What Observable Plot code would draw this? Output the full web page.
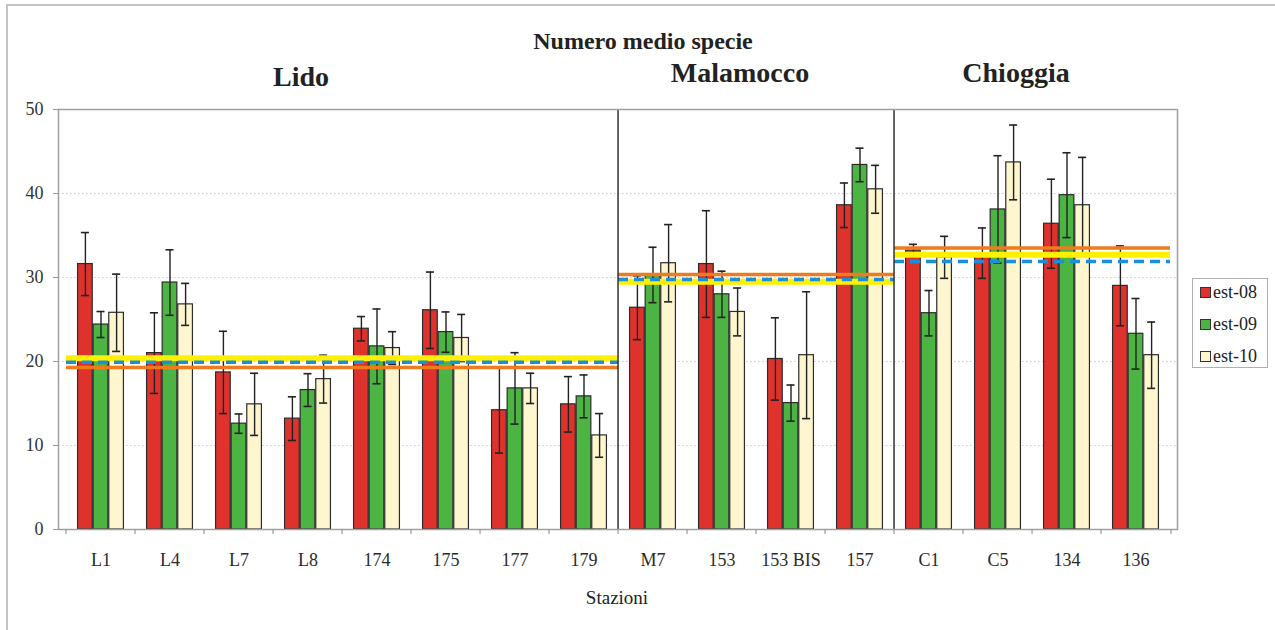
<!DOCTYPE html>
<html>
<head>
<meta charset="utf-8">
<script src="https://cdn.jsdelivr.net/npm/d3@7"></script>
<script src="https://cdn.jsdelivr.net/npm/@observablehq/plot@0.6"></script>
<style>
  body { margin: 0; background: #fff; }
  #wrap { position: relative; width: 1275px; height: 630px; overflow: hidden; font-family: "Liberation Serif", serif; color: #222; }
  #frame { position: absolute; left: 5.5px; top: 4px; width: 1400px; height: 700px; border-left: 2px solid #c4c4c4; border-top: 2px solid #c4c4c4; }
  .lbl { position: absolute; white-space: nowrap; line-height: 1; transform: translateX(-50%); font-family: "Liberation Serif", serif; }
  #legend { position: absolute; left: 1192px; top: 278px; width: 76px; height: 90px; border: 1px solid #b0b0b0; box-sizing: border-box; background: #fff; font-family: "Liberation Serif", serif; }
  .li { position: absolute; left: 7px; font-size: 18px; line-height: 1; color: #222; display: flex; align-items: center; font-family: "Liberation Serif", serif; }
  .sw { width: 11px; height: 11px; border: 1px solid #333; margin-right: 2px; box-sizing: border-box; }
  svg { position: absolute; left: 0; top: 0; }
  svg text { font-family: "Liberation Serif", serif; }
</style>
</head>
<body>
<div id="wrap">
  <div id="frame"></div>
  <div id="chart"></div>
</div>
<script>
// ---- data ----
const stations = ["L1","L4","L7","L8","174","175","177","179","M7","153","153 BIS","157","C1","C5","134","136"];
const seriesNames = ["est-08","est-09","est-10"];
const est08 = [31.6, 21.0, 18.7, 13.2, 23.9, 26.1, 14.2, 14.9, 26.4, 31.6, 20.3, 38.6, 33.2, 32.9, 36.4, 29.0];
const err08 = [3.75, 4.8, 4.9, 2.6, 1.45, 4.55, 5.1, 3.3, 3.8, 6.35, 4.9, 2.65, 0.75, 3.0, 5.3, 4.75];
const est09 = [24.4, 29.4, 12.6, 16.6, 21.8, 23.5, 16.8, 15.85, 30.3, 28.0, 15.05, 43.4, 25.75, 38.1, 39.8, 23.3];
const err09 = [1.55, 3.9, 1.15, 1.95, 4.45, 2.4, 4.25, 2.55, 3.3, 2.75, 2.15, 2.0, 2.7, 6.4, 5.05, 4.2];
const est10 = [25.8, 26.8, 14.9, 17.9, 21.6, 22.8, 16.8, 11.2, 31.7, 25.9, 20.75, 40.5, 32.4, 43.7, 38.6, 20.75];
const err10 = [4.6, 2.5, 3.7, 2.85, 1.95, 2.8, 1.8, 2.6, 4.6, 2.85, 7.55, 2.85, 2.5, 4.45, 5.7, 3.95];
const regions = ["Lido","Malamocco","Chioggia"];
const regionStart = ["L1","M7","C1"];
const regionEnd = ["179","157","136"];
const meanOrange = [19.3, 30.35, 33.5];
const meanYellow = [20.4, 29.5, 32.7];
const meanBlue = [19.9, 29.75, 31.9];
const yTicks = [0, 10, 20, 30, 40, 50];
const title = "Numero medio specie";
const xLabel = "Stazioni";

// ---- layout / style ----
const W = 1275, H = 630, mL = 58, mR = 98, mT = 109, mB = 101;
const bw = (W - mL - mR) / stations.length;
const barW = 15.6, capW = 9;
const colors = ["#df322d", "#4cb443", "#fdf6cf"];
const errs = [err08, err09, err10];
const vals = [est08, est09, est10];
const FONT = "Liberation Serif";

const marks = [];
marks.push(Plot.gridY(yTicks.slice(1, -1), {stroke: "#c8c8c8", strokeOpacity: 1, strokeDasharray: "1.5,2.5"}));

const seriesRows = seriesNames.map((name, k) =>
  stations.map((s, i) => ({station: s, series: name, v: vals[k][i], e: errs[k][i]}))
);

seriesRows.forEach((rows, k) => {
  const off = k - 1;
  const center = bw / 2 + off * barW;
  marks.push(Plot.barY(rows, {
    x: "station", y: "v", fill: colors[k], stroke: "#2b2b2b", strokeWidth: 1.2,
    insetLeft: center - barW / 2, insetRight: bw - center - barW / 2
  }));
});
seriesRows.forEach((rows, k) => {
  const off = k - 1;
  const center = bw / 2 + off * barW;
  marks.push(Plot.ruleX(rows, {x: "station", y1: d => d.v - d.e, y2: d => d.v + d.e, dx: off * barW, stroke: "#222", strokeWidth: 1.4}));
  for (const sign of [1, -1]) {
    marks.push(Plot.tickY(rows, {
      x: "station", y: d => d.v + sign * d.e, stroke: "#222", strokeWidth: 1.6,
      insetLeft: center - capW / 2, insetRight: bw - center - capW / 2
    }));
  }
});

const regionRows = regions.map((r, i) => ({region: r, start: regionStart[i], end: regionEnd[i], o: meanOrange[i], yl: meanYellow[i], b: meanBlue[i]}));
marks.push(Plot.ruleY(regionRows, {x1: "start", x2: "end", y: "yl", stroke: "#fff000", strokeWidth: 6}));
marks.push(Plot.ruleY(regionRows, {x1: "start", x2: "end", y: "o", stroke: "#f07a1e", strokeWidth: 3.5}));
marks.push(Plot.ruleY(regionRows, {x1: "start", x2: "end", y: "b", stroke: "#1d8fd8", strokeWidth: 3.5, strokeDasharray: "10,6"}));

// separators between regions
marks.push(Plot.ruleX(regionStart.slice(1), {x: d => d, y1: 0, y2: 50, dx: -bw / 2, stroke: "#333", strokeWidth: 1.5}));

marks.push(Plot.frame({stroke: "#a0a0a0", strokeWidth: 1.5}));

// boundary ticks on x axis
marks.push(Plot.ruleX(stations, {x: d => d, y1: 0, y2: 0, insetBottom: -5, dx: -bw / 2, stroke: "#999", strokeWidth: 1.2}));
marks.push(Plot.ruleX(stations.slice(-1), {x: d => d, y1: 0, y2: 0, insetBottom: -5, dx: bw / 2, stroke: "#999", strokeWidth: 1.2}));

marks.push(Plot.axisY({ticks: yTicks, tickSize: 5, tickPadding: 10, fontSize: 18, fontFamily: FONT, label: null, stroke: "#999", fill: "#333"}));
marks.push(Plot.axisX({tickSize: 0, tickPadding: 24, fontSize: 18, fontFamily: FONT, label: null, fill: "#2a2a2a"}));

const chart = Plot.plot({
  width: W, height: H,
  marginLeft: mL, marginRight: mR, marginTop: mT, marginBottom: mB,
  style: {fontFamily: FONT, fontSize: "18px", background: "transparent", overflow: "visible"},
  x: {type: "band", domain: stations, padding: 0},
  y: {domain: [0, 50], nice: false},
  marks
});
document.getElementById("chart").appendChild(chart);

// ---- text overlays ----
const wrap = document.getElementById("wrap");
function addLabel(text, cx, baseline, size, bold) {
  const d = document.createElement("div");
  d.className = "lbl";
  d.textContent = text;
  d.style.left = cx + "px";
  d.style.top = (baseline - 0.8375 * size) + "px";
  d.style.fontSize = size + "px";
  d.style.fontWeight = bold ? "bold" : "normal";
  wrap.appendChild(d);
}
addLabel(title, 643, 49.5, 24, true);
const regionLabelX = [301, 740, 1016];
const regionLabelBase = [86.5, 82, 82];
regions.forEach((r, i) => addLabel(r, regionLabelX[i], regionLabelBase[i], 28, true));
addLabel(xLabel, 617, 604, 19, false);

// legend
const lg = document.createElement("div");
lg.id = "legend";
seriesNames.forEach((n, k) => {
  const it = document.createElement("div");
  it.className = "li";
  it.style.top = (4 + k * 32) + "px";
  const sw = document.createElement("span");
  sw.className = "sw";
  sw.style.background = colors[k];
  it.appendChild(sw);
  it.appendChild(document.createTextNode(n));
  lg.appendChild(it);
});
wrap.appendChild(lg);
</script>
</body>
</html>
